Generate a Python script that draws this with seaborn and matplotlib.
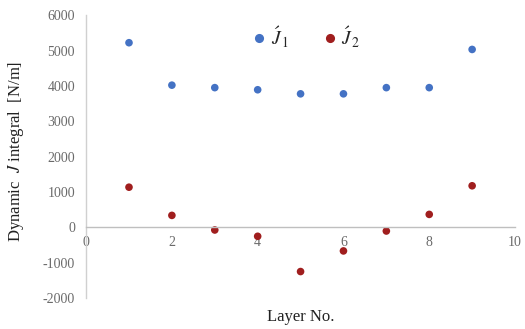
import matplotlib
matplotlib.use("Agg")
import matplotlib.pyplot as plt
import seaborn as sns
import pandas as pd

layers = [1, 2, 3, 4, 5, 6, 7, 8, 9]
j1 = [5220, 4020, 3950, 3890, 3775, 3775, 3950, 3950, 5030]
j2 = [1135, 338, -75, -253, -1250, -667, -104, 366, 1175]
series_names = [r"$\acute{J}_{\,1}$", r"$\acute{J}_{\,2}$"]
x_ticks = [0, 2, 4, 6, 8, 10]
y_ticks = [-2000, -1000, 0, 1000, 2000, 3000, 4000, 5000, 6000]

df = pd.DataFrame({
    "Layer": layers * 2,
    "J": j1 + j2,
    "Series": [series_names[0]] * len(layers) + [series_names[1]] * len(layers),
})

sns.set_style("white")
plt.rcParams["font.family"] = ["Liberation Serif", "DejaVu Serif"]
plt.rcParams["mathtext.fontset"] = "stix"
plt.rcParams["axes.unicode_minus"] = False

fig = plt.figure(figsize=(5.25, 3.29), dpi=100)
ax = fig.add_axes([0.164, 0.094, 0.817, 0.860])

sns.scatterplot(data=df, x="Layer", y="J", hue="Series",
                palette=["#4472C4", "#A01E1E"], s=30, edgecolor="none",
                ax=ax)

ax.set_xlim(0, 10)
ax.set_ylim(-2000, 6000)
ax.set_xticks(x_ticks)
ax.set_yticks(y_ticks)
ax.tick_params(axis="both", length=0, labelsize=10, colors="#6a6a6a")
ax.tick_params(axis="x", pad=6)
ax.tick_params(axis="y", pad=8)

for s in ["top", "right"]:
    ax.spines[s].set_visible(False)
ax.spines["bottom"].set_position(("data", 0))
ax.spines["bottom"].set_color("#BFBFBF")
ax.spines["left"].set_color("#D0D0D0")
ax.spines["left"].set_linewidth(1.0)
ax.spines["bottom"].set_linewidth(1.0)

ax.set_xlabel("Layer No.", fontsize=12, color="#222222")
ax.xaxis.set_label_coords(0.5, -0.04)
ax.set_ylabel(r"Dynamic  $J$ integral  [N/m]", fontsize=12, color="#222222")
ax.yaxis.set_label_coords(-0.14, 0.52)

leg = ax.legend(loc="upper center", bbox_to_anchor=(0.51, 1.03), ncol=2,
                frameon=False, fontsize=14, markerscale=1.2,
                handlelength=1.0, handletextpad=0.1, columnspacing=1.6,
                title=None)

fig.savefig("out.png", dpi=100)
